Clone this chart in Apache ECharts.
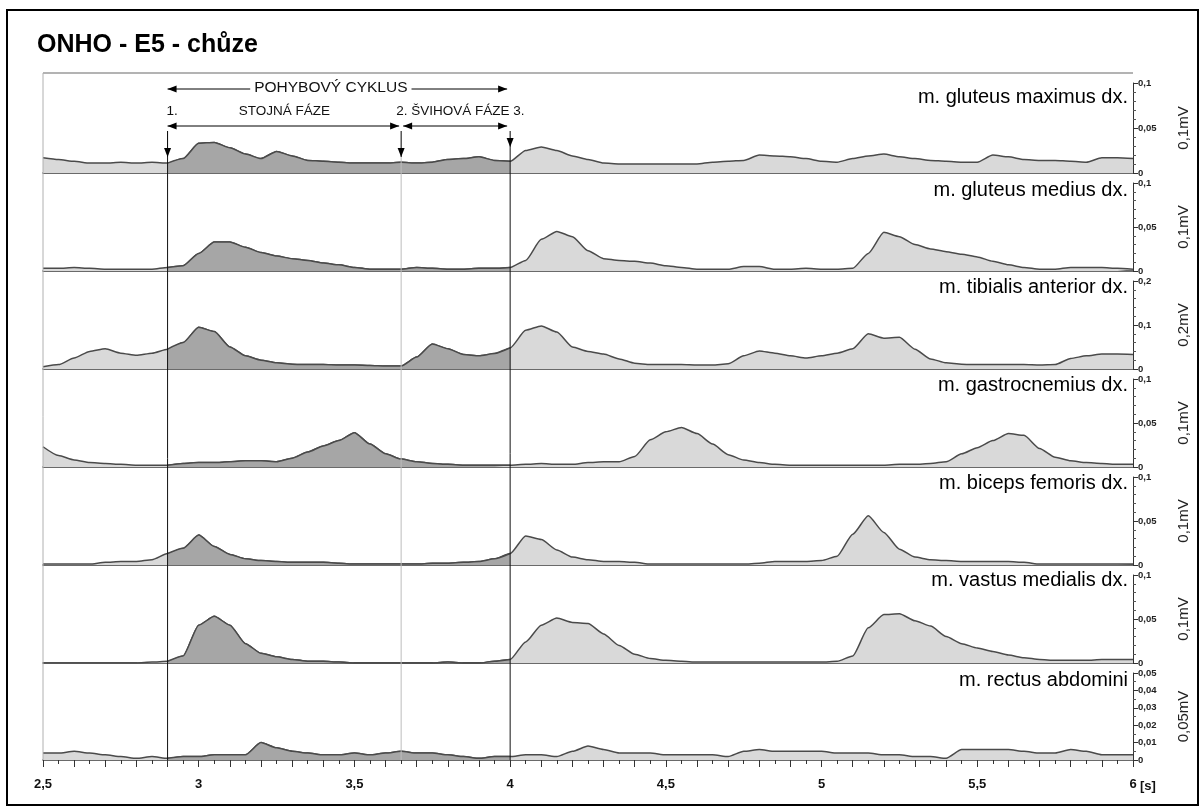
<!DOCTYPE html>
<html>
<head>
<meta charset="utf-8">
<title>ONHO - E5 - chůze</title>
<script src="https://cdn.jsdelivr.net/npm/echarts@6/dist/echarts.min.js"></script>
<style>
  html, body { margin: 0; padding: 0; background: #fff; }
  #main { width: 1201px; height: 807px; }
</style>
</head>
<body>
<div id="main"></div>
<script>
// cas v sekundach, vzorek kazdych 0,05 s (2,5 .. 6 s)
var time = [];
for (var k = 0; k <= 70; k++) time.push(+(2.5 + k * 0.05).toFixed(2));

var muscles = ['m. gluteus maximus dx.', 'm. gluteus medius dx.', 'm. tibialis anterior dx.',
  'm. gastrocnemius dx.', 'm. biceps femoris dx.', 'm. vastus medialis dx.', 'm. rectus abdomini'];
var units = ['0,1mV', '0,1mV', '0,2mV', '0,1mV', '0,1mV', '0,1mV', '0,05mV'];
var yMax = [0.1, 0.1, 0.2, 0.1, 0.1, 0.1, 0.05];
var yStep = [0.05, 0.05, 0.1, 0.05, 0.05, 0.05, 0.01];
var yMinorSplit = [5, 5, 5, 5, 5, 5, 2];
var xLabelValues = [2.5, 3, 3.5, 4, 4.5, 5, 5.5, 6];

// udalosti pohyboveho cyklu [s]
var cycleStart = 2.9, swingStart = 3.65, cycleEnd = 4.0;

// EMG obalky [mV]
var gluteusMaximus = [
  .017, .015, .013, .011, .011, .012, .011, .012, .011, .016,
  .033, .034, .028, .021, .016, .024, .019, .014, .013, .012,
  .011, .011, .011, .012, .011, .012, .015, .016, .018, .014,
  .013, .025, .029, .025, .019, .015, .011, .010, .010, .010,
  .010, .010, .010, .012, .013, .014, .020, .019, .018, .016,
  .013, .012, .016, .019, .021, .018, .016, .014, .013, .012,
  .012, .020, .018, .015, .014, .014, .013, .012, .017, .017,
  .016];
var gluteusMedius = [
  .003, .003, .004, .003, .002, .002, .002, .002, .004, .006,
  .020, .033, .033, .027, .021, .017, .014, .012, .009, .007,
  .004, .002, .002, .002, .004, .003, .002, .002, .003, .003,
  .004, .012, .036, .045, .039, .023, .014, .012, .011, .009,
  .006, .004, .002, .002, .002, .005, .005, .002, .002, .003,
  .002, .002, .003, .020, .044, .039, .030, .025, .022, .019,
  .016, .011, .007, .004, .002, .002, .004, .004, .004, .003,
  .002];
var tibialisAnterior = [
  .005, .010, .025, .040, .046, .036, .031, .036, .045, .060,
  .095, .085, .050, .030, .020, .014, .011, .010, .010, .009,
  .009, .008, .007, .007, .027, .057, .046, .033, .030, .035,
  .048, .088, .098, .084, .050, .040, .034, .023, .013, .010,
  .010, .010, .009, .009, .012, .030, .041, .036, .030, .025,
  .030, .036, .046, .080, .070, .072, .045, .023, .014, .011,
  .010, .010, .010, .010, .009, .010, .024, .030, .034, .034,
  .033];
var gastrocnemius = [
  .023, .013, .008, .005, .004, .003, .002, .002, .002, .004,
  .005, .005, .006, .007, .007, .006, .010, .017, .024, .030,
  .039, .026, .015, .009, .006, .004, .003, .002, .002, .002,
  .002, .003, .004, .003, .003, .005, .006, .006, .012, .031,
  .040, .045, .038, .026, .014, .008, .005, .003, .002, .002,
  .002, .002, .002, .002, .002, .003, .003, .004, .006, .015,
  .022, .030, .038, .036, .021, .011, .007, .005, .004, .003,
  .003];
var bicepsFemoris = [
  .001, .001, .001, .001, .003, .004, .004, .006, .013, .019,
  .034, .021, .012, .007, .005, .004, .003, .003, .003, .002,
  .001, .001, .001, .001, .001, .002, .002, .003, .004, .007,
  .013, .033, .029, .017, .009, .006, .004, .004, .003, .001,
  .001, .001, .001, .001, .001, .001, .002, .004, .004, .004,
  .005, .010, .035, .056, .037, .018, .009, .006, .005, .004,
  .004, .004, .004, .003, .001, .001, .001, .001, .001, .001,
  .001];
var vastusMedialis = [
  0, 0, 0, 0, 0, 0, 0, .001, .002, .008,
  .043, .053, .043, .022, .011, .007, .004, .002, .002, .001,
  0, 0, 0, 0, 0, 0, .001, 0, 0, .002,
  .004, .024, .043, .051, .046, .045, .033, .020, .010, .005,
  .003, .002, .001, .001, .001, .001, .001, .001, .001, .001,
  .001, .002, .008, .040, .055, .056, .048, .042, .030, .022,
  .017, .013, .009, .006, .004, .003, .003, .003, .004, .004,
  .004];
var rectusAbdomini = [
  .004, .004, .005, .004, .003, .002, .001, .002, .001, .002,
  .002, .003, .003, .003, .010, .007, .005, .004, .003, .003,
  .004, .003, .004, .005, .004, .004, .003, .002, .001, .002,
  .002, .003, .003, .002, .005, .008, .006, .004, .004, .004,
  .003, .003, .003, .003, .002, .005, .006, .005, .005, .005,
  .005, .004, .004, .004, .003, .003, .002, .002, .001, .006,
  .006, .006, .006, .005, .004, .004, .006, .005, .003, .003,
  .003];
var signals = [gluteusMaximus, gluteusMedius, tibialisAnterior, gastrocnemius,
  bicepsFemoris, vastusMedialis, rectusAbdomini];

// rozlozeni panelu (px)
var panelTop = [73, 173, 271, 369, 467, 565, 663];
var panelBottom = [173, 271, 369, 467, 565, 663, 760];
var labelY = [97, 190, 287, 385, 483, 580, 680];
var plotLeft = 43, plotRight = 1133;
var FONT = '"Liberation Sans", Arial, sans-serif';

function comma(v) {
  return String(+(+v).toFixed(3)).replace('.', ',');
}

var chart = echarts.init(document.getElementById('main'));

var grids = [], xAxes = [], yAxes = [], series = [];
for (var i = 0; i < signals.length; i++) {
  var last = i === signals.length - 1;
  grids.push({
    left: plotLeft,
    right: 1201 - plotRight,
    top: panelTop[i] + 10,
    height: panelBottom[i] - panelTop[i] - 10
  });
  xAxes.push({
    type: 'value',
    gridIndex: i,
    min: 2.5,
    max: 6,
    interval: 0.1,
    axisLine: { show: true, onZero: false, lineStyle: { color: '#3a3a3a', width: 1.5 } },
    axisTick: { show: last, length: 7, lineStyle: { color: '#333' } },
    minorTick: { show: last, splitNumber: 2, length: 4, lineStyle: { color: '#333' } },
    axisLabel: {
      show: last,
      margin: 18,
      fontSize: 13,
      fontWeight: 'bold',
      color: '#111',
      fontFamily: FONT,
      formatter: function (v) {
        for (var j = 0; j < xLabelValues.length; j++) {
          if (Math.abs(v - xLabelValues[j]) < 1e-6) return comma(xLabelValues[j]);
        }
        return '';
      }
    },
    splitLine: { show: false }
  });
  yAxes.push({
    type: 'value',
    gridIndex: i,
    position: 'right',
    min: 0,
    max: yMax[i],
    interval: yStep[i],
    name: units[i],
    nameLocation: 'middle',
    nameRotate: 90,
    nameGap: 43,
    nameTextStyle: { fontSize: 15, color: '#222', fontFamily: FONT },
    axisLine: { show: true, lineStyle: { color: '#333', width: 1 } },
    axisTick: { show: true, length: 5, lineStyle: { color: '#333' } },
    minorTick: { show: true, splitNumber: yMinorSplit[i], length: 3, lineStyle: { color: '#555' } },
    axisLabel: { fontSize: 9.5, fontWeight: 'bold', color: '#222', margin: 5, fontFamily: FONT, formatter: comma },
    splitLine: { show: false }
  });

  var all = [], cycle = [];
  for (var k2 = 0; k2 < time.length; k2++) {
    all.push([time[k2], signals[i][k2]]);
    if (time[k2] >= cycleStart - 1e-6 && time[k2] <= cycleEnd + 1e-6) cycle.push([time[k2], signals[i][k2]]);
  }
  series.push({
    type: 'line',
    xAxisIndex: i,
    yAxisIndex: i,
    data: all,
    symbol: 'none',
    smooth: 0.2,
    smoothMonotone: 'x',
    lineStyle: { color: '#4a4a4a', width: 1.5 },
    areaStyle: { color: '#d9d9d9', opacity: 1 },
    z: 2
  });
  series.push({
    type: 'line',
    xAxisIndex: i,
    yAxisIndex: i,
    data: cycle,
    symbol: 'none',
    smooth: 0.2,
    smoothMonotone: 'x',
    lineStyle: { color: '#4a4a4a', width: 1.5 },
    areaStyle: { color: '#a6a6a6', opacity: 1 },
    z: 3
  });
}

chart.setOption({
  animation: false,
  backgroundColor: '#fff',
  textStyle: { fontFamily: FONT },
  grid: grids,
  xAxis: xAxes,
  yAxis: yAxes,
  series: series
});

// anotace - polohy z osy x
function px(t) { return chart.convertToPixel({ xAxisIndex: 0 }, t); }
function seg(x1, y1, x2, y2, color, w) {
  return { type: 'line', silent: true, z: 20, shape: { x1: x1, y1: y1, x2: x2, y2: y2 }, style: { stroke: color, lineWidth: w || 1 } };
}
function head(x, y, dir) {
  var p;
  if (dir === 'l') p = [[x, y], [x + 9, y - 3.5], [x + 9, y + 3.5]];
  else if (dir === 'r') p = [[x, y], [x - 9, y - 3.5], [x - 9, y + 3.5]];
  else p = [[x, y], [x - 3.5, y - 9], [x + 3.5, y - 9]];
  return { type: 'polygon', silent: true, z: 21, shape: { points: p }, style: { fill: '#000' } };
}
function label(str, x, y, size, align, weight, extra) {
  var st = { text: str, x: x, y: y, align: align, verticalAlign: 'middle', fill: '#111',
    font: (weight || 'normal') + ' ' + size + 'px ' + FONT };
  if (extra) for (var key in extra) st[key] = extra[key];
  return { type: 'text', silent: true, z: 22, style: st };
}

var x1 = px(cycleStart), x2 = px(swingStart), x3 = px(cycleEnd), x6 = px(6);
var yBottom = panelBottom[panelBottom.length - 1];
var g = [];
g.push({ type: 'rect', silent: true, z: 1, shape: { x: 7, y: 10, width: 1191, height: 795 }, style: { fill: 'none', stroke: '#000', lineWidth: 2 } });
g.push(label('ONHO - E5 - chůze', 37, 45, 25, 'left', 'bold', { fill: '#000' }));
g.push(seg(plotLeft, panelTop[0], plotRight, panelTop[0], '#9a9a9a', 1.5));
g.push(seg(plotLeft, panelTop[0], plotLeft, yBottom, '#b0b0b0', 1));

// svisle cary udalosti
g.push(seg(x1, 157, x1, yBottom, '#111', 1));
g.push(seg(x2, 157, x2, yBottom, '#bdbdbd', 1));
g.push(seg(x3, 147, x3, yBottom, '#111', 1));

// pohybovy cyklus
g.push(seg(x1, 89, x3 - 3, 89, '#000', 1));
g.push(head(x1, 89, 'l'), head(x3 - 3, 89, 'r'));
g.push(label('POHYBOVÝ CYKLUS', (x1 + x3) / 2 - 8, 88, 15.5, 'center', 'normal', { backgroundColor: '#fff', padding: [0, 4] }));
g.push(label('1.', x1 - 1, 111, 13.5, 'left'));
g.push(label('STOJNÁ FÁZE', (x1 + x2) / 2, 111, 13.5, 'center'));
g.push(label('2. ŠVIHOVÁ FÁZE 3.', x2 - 5, 111, 13.5, 'left'));
g.push(seg(x1, 126, x2 - 2, 126, '#000', 1));
g.push(head(x1, 126, 'l'), head(x2 - 2, 126, 'r'));
g.push(seg(x2 + 2, 126, x3 - 3, 126, '#000', 1));
g.push(head(x2 + 2, 126, 'l'), head(x3 - 3, 126, 'r'));
g.push(seg(x1, 131, x1, 157, '#000', 1), head(x1, 157, 'd'));
g.push(seg(x2, 131, x2, 157, '#000', 1), head(x2, 157, 'd'));
g.push(seg(x3, 131, x3, 147, '#000', 1), head(x3, 147, 'd'));

// nazvy svalu
for (var m = 0; m < muscles.length; m++) {
  g.push(label(muscles[m], plotRight - 5, labelY[m], 20, 'right', 'normal', { fill: '#000' }));
}
g.push(label('[s]', x6 + 7, 786, 13, 'left', 'bold', { fill: '#111' }));

chart.setOption({ graphic: g });
</script>
</body>
</html>
